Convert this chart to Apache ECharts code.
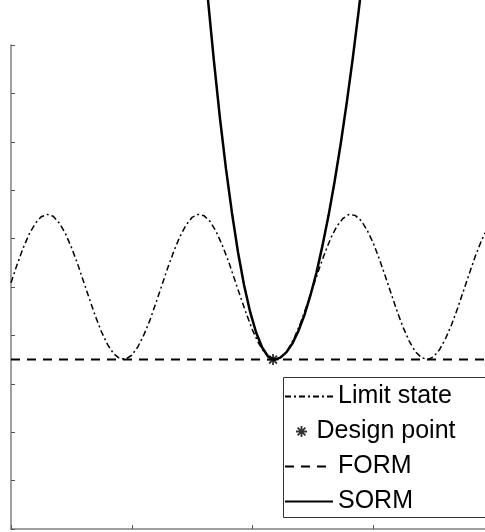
<!DOCTYPE html>
<html>
<head>
<meta charset="utf-8">
<script src="https://cdn.jsdelivr.net/npm/echarts@6/dist/echarts.min.js"></script>
<style>html,body{margin:0;padding:0;background:#fff;}#c{width:485px;height:532px;}</style>
</head>
<body>
<div id="c"></div>
<script>
// Limit state curve
var limitX = [0,0.25,0.5,0.75,1,1.25,1.5,1.75,2,2.25,2.5,2.75,3,3.25,3.5,3.75,4,4.25,4.5,4.75,5,5.25,5.5,5.75,6,6.25,6.5,6.75,7,7.25,7.5,7.75,8,8.25,8.5,8.75,9,9.25,9.5,9.75,10,10.25,10.5,10.75,11,11.25,11.5,11.75,12,12.25,12.5,12.75,13,13.25,13.5,13.75,14,14.25,14.5,14.75,15,15.25,15.5,15.75,16,16.25,16.5,16.75,17,17.25,17.5,17.75,18,18.25,18.5,18.75,19,19.25,19.5,19.75,20];
var limitY = [0.09,0.46,0.80,1.09,1.31,1.45,1.50,1.46,1.32,1.11,0.82,0.49,0.12,-0.25,-0.61,-0.93,-1.19,-1.38,-1.48,-1.49,-1.41,-1.24,-0.99,-0.69,-0.33,0.04,0.41,0.75,1.05,1.28,1.44,1.50,1.47,1.35,1.14,0.86,0.54,0.17,-0.20,-0.56,-0.89,-1.16,-1.36,-1.47,-1.50,-1.43,-1.27,-1.03,-0.73,-0.38,-0.01,0.36,0.71,1.02,1.26,1.42,1.50,1.48,1.37,1.17,0.91,0.58,0.22,-0.15,-0.52,-0.85,-1.13,-1.34,-1.46,-1.50,-1.44,-1.29,-1.06,-0.77,-0.43,-0.06,0.31,0.67,0.98,1.23,1.40];
// Design point
var designX = [10.85];
var designY = [-1.5];
// FORM (linear approximation)
var formX = [0, 20];
var formY = [-1.5, -1.5];
// SORM (parabolic approximation)
var sormX = [7.9,8.15,8.4,8.65,8.9,9.15,9.4,9.65,9.9,10.15,10.4,10.65,10.9,11.15,11.4,11.65,11.9,12.15,12.4,12.65,12.9,13.15,13.4,13.65,13.9,14.15,14.4,14.65,14.9];
var sormY = [7.39,5.97,4.68,3.50,2.45,1.53,0.72,0.04,-0.51,-0.94,-1.25,-1.44,-1.5,-1.46,-1.35,-1.17,-0.91,-0.58,-0.17,0.30,0.86,1.48,2.18,2.95,3.80,4.72,5.72,6.78,7.92];

function pairs(xs, ys){ return xs.map(function(x,i){ return [x, ys[i]]; }); }

var star = 'path://M-1,-6 L1,-6 L1,6 L-1,6 Z M-6,-1 L6,-1 L6,1 L-6,1 Z M-4.95,-3.54 L-3.54,-4.95 L4.95,3.54 L3.54,4.95 Z M3.54,-4.95 L4.95,-3.54 L-3.54,4.95 L-4.95,3.54 Z';

var font = 'Liberation Sans, Arial, sans-serif';
var txt = {color:'#000', fontSize:25, fontFamily:font, lineHeight:35};

var chart = echarts.init(document.getElementById('c'), null, {renderer:'canvas'});
chart.setOption({
  animation:false,
  backgroundColor:'#fff',
  grid:{left:11, width:483, top:45, bottom:3, containLabel:false, outerBoundsMode:'none'},
  xAxis:{type:'value', min:0, max:20, interval:5,
    axisLine:{onZero:false, lineStyle:{color:'#808080', width:1.5}},
    axisTick:{inside:true, length:4, lineStyle:{color:'#555', width:1}},
    axisLabel:{show:false}, splitLine:{show:false}},
  yAxis:{type:'value', min:-5, max:5, interval:1,
    axisLine:{show:true, onZero:false, lineStyle:{color:'#808080', width:1.5}},
    axisTick:{show:true, inside:true, length:4, lineStyle:{color:'#555', width:1}},
    axisLabel:{show:false}, splitLine:{show:false}},
  legend:[
    {orient:'vertical', left:284, top:379, padding:0, itemGap:0, itemWidth:48, itemHeight:12,
     itemStyle:{opacity:0}, data:['Limit state'], textStyle:txt, selectedMode:false},
    {orient:'vertical', left:296, top:414, padding:0, itemGap:0, itemWidth:20, itemHeight:11,
     data:['Design point'], textStyle:txt, selectedMode:false},
    {orient:'vertical', left:284, top:449, padding:0, itemGap:0, itemWidth:48, itemHeight:12,
     itemStyle:{opacity:0}, data:['FORM','SORM'], textStyle:txt, selectedMode:false}
  ],
  graphic:[{type:'rect', z:0, shape:{x:283.5, y:377.5, width:300, height:140},
    style:{fill:'none', stroke:'#333', lineWidth:1}}],
  series:[
    {name:'Limit state', type:'line', data:pairs(limitX, limitY), symbol:'none',
     itemStyle:{color:'#000'}, lineStyle:{color:'#000', width:1.5, type:[6,3,2,3]}, z:2},
    {name:'Design point', type:'scatter', data:pairs(designX, designY), symbol:star, symbolSize:11,
     itemStyle:{color:'#000'}, z:5},
    {name:'FORM', type:'line', data:pairs(formX, formY), symbol:'none',
     itemStyle:{color:'#000'}, lineStyle:{color:'#000', width:2, type:[9,7]}, z:3},
    {name:'SORM', type:'line', data:pairs(sormX, sormY), symbol:'none', clip:false,
     itemStyle:{color:'#000'}, lineStyle:{color:'#000', width:2.5}, z:4}
  ]
});
</script>
</body>
</html>
